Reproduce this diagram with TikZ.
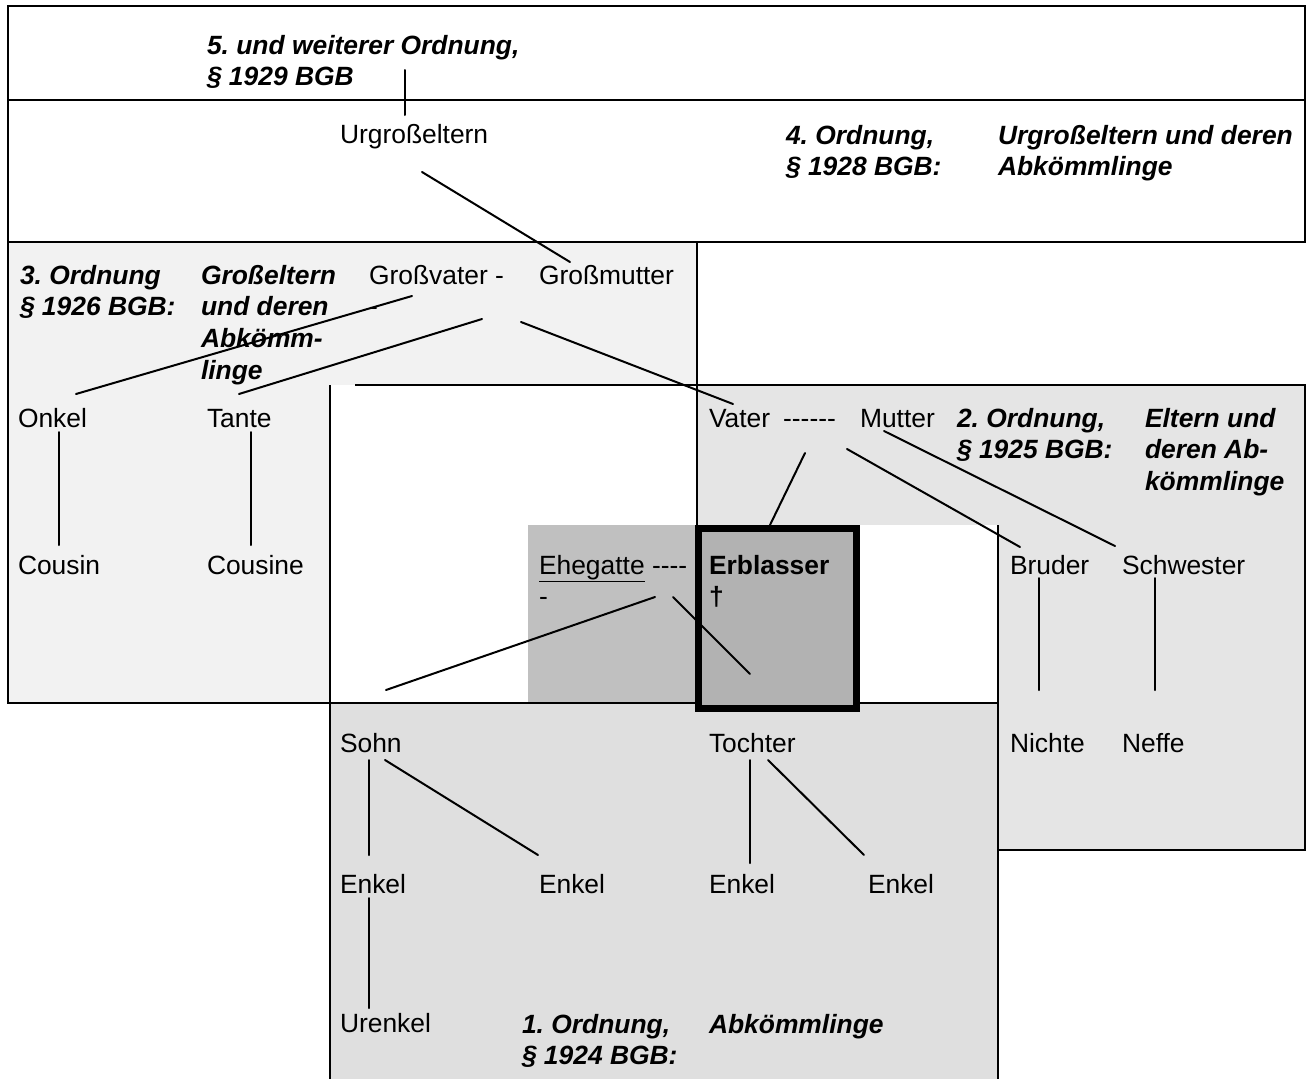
\documentclass[tikz,border=0pt]{standalone}
\usepackage{fontspec}
\setmainfont{Liberation Sans}
\definecolor{ordthree}{HTML}{F2F2F2}
\definecolor{ordtwo}{HTML}{E5E5E5}
\definecolor{ordone}{HTML}{DFDFDF}
\definecolor{spouse}{HTML}{C0C0C0}
\definecolor{deceased}{HTML}{B2B2B2}
\frenchspacing
\begin{document}
\begin{tikzpicture}[x=1pt,y=-1pt,
  every node/.style={inner sep=0pt, outer sep=0pt, font=\fontsize{26.4}{31.7}\selectfont},
  lbl/.style={anchor=base west},
  ml/.style={anchor=north west, align=left},
  ord/.style={font=\fontsize{26.4}{31.7}\selectfont\bfseries\itshape},
  ln/.style={line width=2pt, line cap=round},
  frame/.style={line width=2pt}]
\useasboundingbox (0,0) rectangle (1306,1079);
\fill[white] (0,0) rectangle (1306,1079);
% ---- fills
\fill[ordthree] (8,242) rectangle (697,703);
\fill[ordtwo] (697,385) rectangle (1305,850);
\fill[white] (330,385) rectangle (697,703);
\fill[white] (860,525) rectangle (998,703);
\fill[ordone] (330,703) rectangle (998,1079);
\fill[spouse] (528,525) rectangle (697,703);
% ---- frames
\draw[frame] (8,6) rectangle (1305,100);
\draw[frame] (8,100) rectangle (1305,242);
\draw[frame] (697,242) -- (697,385);
\draw[frame] (8,242) -- (8,703) -- (998,703);
\draw[frame] (330,385) -- (330,1079);
\draw[frame] (355,385) -- (1305,385) -- (1305,850) -- (998,850);
\draw[frame] (697,385) -- (697,525);
\draw[frame] (998,525) -- (998,1079);
\draw[fill=deceased, line width=7pt] (698.5,528.5) rectangle (856.5,708.5);
% ---- texts
\node[ml,ord] (o5) at (207,35) {5. und weiterer Ordnung,\\§ 1929 BGB};
\node[lbl] (urg) at (340,143) {Urgroßeltern};
\node[ml,ord] (o4) at (786,125) {4. Ordnung,\\§ 1928 BGB:};
\node[ml,ord] (o4b) at (998,125) {Urgroßeltern und deren\\Abkömmlinge};
\node[ml,ord] (o3) at (20,265) {3. Ordnung\\§ 1926 BGB:};
\node[ml,ord] (o3b) at (201,265) {Großeltern\\und deren\\Abkömm-\\linge};
\node[ml] (gv) at (369,265) {Großvater -\\-};
\node[lbl] (gm) at (539,284) {Großmutter};
\node[lbl] (onkel) at (18,427) {Onkel};
\node[lbl] (tante) at (207,427) {Tante};
\node[lbl] (cousin) at (18,574) {Cousin};
\node[lbl] (cousine) at (207,574) {Cousine};
\node[lbl] (vater) at (709,427) {Vater\hspace{13pt}-{}-{}-{}-{}-{}-};
\node[lbl] (mutter) at (860,427) {Mutter};
\node[ml,ord] (o2) at (957,408) {2. Ordnung,\\§ 1925 BGB:};
\node[ml,ord] (o2b) at (1145,408) {Eltern und\\deren Ab-\\kömmlinge};
\node[lbl] (bruder) at (1010,574) {Bruder};
\node[lbl] (schwester) at (1122,574) {Schwester};
\node[ml] (ehe) at (539,555) {\underline{Ehegatte} -{}-{}-{}-\\-};
\node[ml,font=\fontsize{26.4}{31.7}\selectfont\bfseries] (erb) at (709,555) {Erblasser\\†};
\node[lbl] (nichte) at (1010,752) {Nichte};
\node[lbl] (neffe) at (1122,752) {Neffe};
\node[lbl] (sohn) at (340,752) {Sohn};
\node[lbl] (tochter) at (709,752) {Tochter};
\node[lbl] (enkela) at (340,893) {Enkel};
\node[lbl] (enkelb) at (539,893) {Enkel};
\node[lbl] (enkelc) at (709,893) {Enkel};
\node[lbl] (enkeld) at (868,893) {Enkel};
\node[lbl] (urenkel) at (340,1032) {Urenkel};
\node[ml,ord] (o1) at (522,1014) {1. Ordnung,\\§ 1924 BGB:};
\node[lbl,ord] (o1b) at (709,1033) {Abkömmlinge};
% ---- connector end points
\coordinate (c5) at (405,70);   \coordinate (cu1) at (405,115);
\coordinate (cu2) at (422,172); \coordinate (cgm) at (570,262);
\coordinate (cgv1) at (412,296); \coordinate (con) at (76,394);
\coordinate (cgv2) at (482,319); \coordinate (cta) at (239,394);
\coordinate (cgv3) at (521,322); \coordinate (cva) at (733,404);
\coordinate (con2) at (59,432); \coordinate (ccn) at (59,545);
\coordinate (cta2) at (251,432); \coordinate (cce) at (251,545);
\coordinate (cvm1) at (805,453); \coordinate (cer) at (770,525);
\coordinate (cvm2) at (847,449); \coordinate (cbr) at (1020,547);
\coordinate (cmu) at (884,431); \coordinate (csw) at (1115,546);
\coordinate (cbr2) at (1039,578); \coordinate (cni) at (1039,690);
\coordinate (csw2) at (1155,578); \coordinate (cne) at (1155,690);
\coordinate (ce1) at (655,597); \coordinate (cso) at (386,690);
\coordinate (ce2) at (673,597); \coordinate (cto) at (750,674);
\coordinate (cso1) at (369,760); \coordinate (cea) at (369,855);
\coordinate (cso2) at (385,760); \coordinate (ceb) at (538,855);
\coordinate (cto1) at (750,760); \coordinate (cec) at (750,863);
\coordinate (cto2) at (768,760); \coordinate (ced) at (864,855);
\coordinate (cea2) at (369,898); \coordinate (cur) at (369,1008);
% ---- connectors
\draw[ln] (c5) -- (cu1);
\draw[ln] (cu2) -- (cgm);
\draw[ln] (cgv1) -- (con);
\draw[ln] (cgv2) -- (cta);
\draw[ln] (cgv3) -- (cva);
\draw[ln] (con2) -- (ccn);
\draw[ln] (cta2) -- (cce);
\draw[ln] (cvm1) -- (cer);
\draw[ln] (cvm2) -- (cbr);
\draw[ln] (cmu) -- (csw);
\draw[ln] (cbr2) -- (cni);
\draw[ln] (csw2) -- (cne);
\draw[ln] (ce1) -- (cso);
\draw[ln] (ce2) -- (cto);
\draw[ln] (cso1) -- (cea);
\draw[ln] (cso2) -- (ceb);
\draw[ln] (cto1) -- (cec);
\draw[ln] (cto2) -- (ced);
\draw[ln] (cea2) -- (cur);
\end{tikzpicture}
\end{document}
